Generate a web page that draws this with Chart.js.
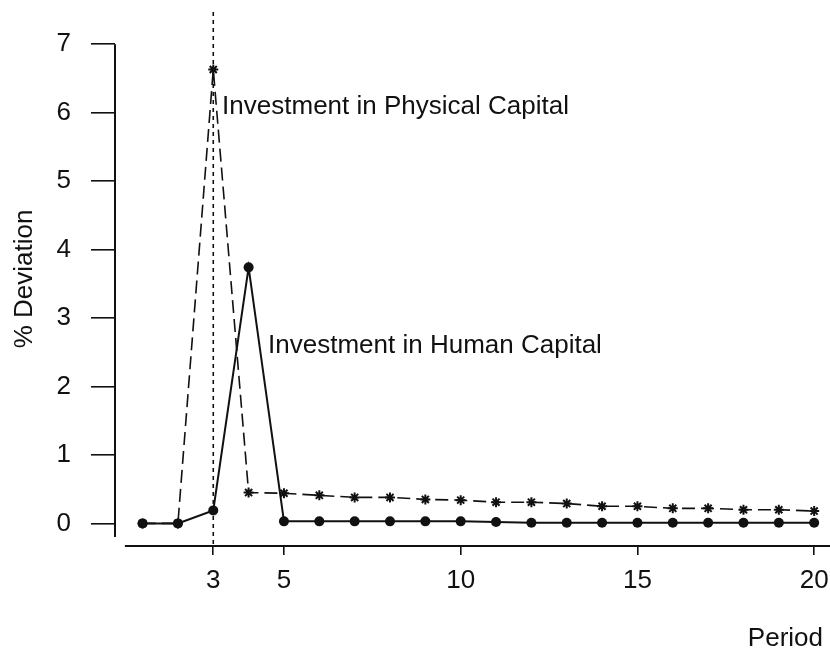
<!DOCTYPE html>
<html>
<head>
<meta charset="utf-8">
<script src="https://cdn.jsdelivr.net/npm/chart.js@4.4.1/dist/chart.umd.min.js"></script>
<style>
  html, body { margin: 0; padding: 0; background: #fff; }
  #wrap { width: 830px; height: 655px; }
</style>
</head>
<body>
<div id="wrap"><canvas id="c" width="830" height="655"></canvas></div>
<script>
// Periods after the shock
const periods = [1, 2, 3, 4, 5, 6, 7, 8, 9, 10, 11, 12, 13, 14, 15, 16, 17, 18, 19, 20];
// % deviation of investment in physical capital
const physicalInvestment = [0, 0, 6.63, 0.45, 0.44, 0.41, 0.38, 0.38, 0.35, 0.34, 0.31, 0.31, 0.29, 0.25, 0.25, 0.22, 0.22, 0.20, 0.20, 0.18];
// % deviation of investment in human capital
const humanInvestment = [0, 0, 0.19, 3.74, 0.03, 0.03, 0.03, 0.03, 0.03, 0.03, 0.02, 0.01, 0.01, 0.01, 0.01, 0.01, 0.01, 0.01, 0.01, 0.01];
// Axis ticks
const xTicks = [3, 5, 10, 15, 20];
const yTicks = [0, 1, 2, 3, 4, 5, 6, 7];
// Period of the shock, marked with a vertical dotted line
const shockPeriod = 3;
// Series labels written next to their peaks
const seriesLabels = ['Investment in Physical Capital', 'Investment in Human Capital'];

const INK = '#111';
const FONT = "'Liberation Sans', Arial, Helvetica, sans-serif";
Chart.defaults.font.family = FONT;
Chart.defaults.color = INK;

const toXY = (vals) => vals.map((v, i) => ({ x: periods[i], y: v }));

// Axis lines, the shock marker and the in-plot labels
const decorations = {
  id: 'decorations',
  afterDatasetsDraw(chart) {
    const { ctx, chartArea, scales } = chart;
    const xs = scales.x, ys = scales.y;
    ctx.save();
    ctx.strokeStyle = INK;
    ctx.lineCap = 'butt';

    // y axis line (spanning the tick range)
    ctx.lineWidth = 2;
    ctx.beginPath();
    ctx.moveTo(chartArea.left, ys.getPixelForValue(7));
    ctx.lineTo(chartArea.left, ys.getPixelForValue(-0.2));
    ctx.stroke();

    // x axis line, running out to the right edge
    ctx.beginPath();
    ctx.moveTo(xs.getPixelForValue(0.5), chartArea.bottom);
    ctx.lineTo(chart.width, chartArea.bottom);
    ctx.stroke();

    // dotted line at the shock period
    ctx.lineWidth = 1.6;
    ctx.setLineDash([4, 4]);
    const sx = xs.getPixelForValue(shockPeriod);
    ctx.beginPath();
    ctx.moveTo(sx, chartArea.top);
    ctx.lineTo(sx, chartArea.bottom);
    ctx.stroke();
    ctx.setLineDash([]);

    // series labels
    ctx.fillStyle = INK;
    ctx.font = '26px ' + FONT;
    ctx.textAlign = 'left';
    ctx.textBaseline = 'middle';
    ctx.fillText(seriesLabels[0], xs.getPixelForValue(3.25), ys.getPixelForValue(6.09));
    ctx.fillText(seriesLabels[1], xs.getPixelForValue(4.55), ys.getPixelForValue(2.6));
    ctx.restore();
  }
};

new Chart(document.getElementById('c'), {
  type: 'line',
  data: {
    datasets: [
      {
        label: seriesLabels[0],
        data: toXY(physicalInvestment),
        borderColor: INK,
        backgroundColor: INK,
        borderWidth: 1.6,
        borderDash: [13, 6],
        tension: 0,
        pointStyle: 'star',
        pointRadius: 5,
        pointBorderWidth: 2,
        pointBorderColor: INK,
        fill: false
      },
      {
        label: seriesLabels[1],
        data: toXY(humanInvestment),
        borderColor: INK,
        backgroundColor: INK,
        borderWidth: 2,
        tension: 0,
        pointStyle: 'circle',
        pointRadius: 5,
        pointBorderWidth: 0,
        pointBackgroundColor: INK,
        fill: false
      }
    ]
  },
  options: {
    responsive: false,
    animation: false,
    layout: { padding: { top: 12, right: 2, bottom: 0, left: 0 } },
    plugins: { legend: { display: false }, tooltip: { enabled: false } },
    scales: {
      x: {
        type: 'linear',
        min: 0.22,
        max: 20.25,
        afterBuildTicks: (s) => { s.ticks = xTicks.map(v => ({ value: v })); },
        afterFit: (s) => { s.height = 109; s.paddingLeft = 0; s.paddingRight = 0; },
        ticks: { autoSkip: false, maxRotation: 0, padding: 10, font: { size: 26 }, color: INK },
        grid: { display: true, drawOnChartArea: false, drawTicks: true, tickLength: 9, color: INK, lineWidth: 1.6 },
        border: { display: false },
        title: { display: true, text: 'Period', align: 'end', font: { size: 26 }, color: INK, padding: { top: 27, bottom: 1 } }
      },
      y: {
        type: 'linear',
        min: -0.33,
        max: 7.47,
        afterBuildTicks: (s) => { s.ticks = yTicks.map(v => ({ value: v })); },
        afterFit: (s) => { s.width = 115; s.paddingTop = 0; s.paddingBottom = 0; },
        ticks: { padding: 20, font: { size: 26 }, color: INK },
        grid: { display: true, drawOnChartArea: false, drawTicks: true, tickLength: 24, color: INK, lineWidth: 1.6 },
        border: { display: false },
        title: { display: true, text: '% Deviation', font: { size: 26 }, color: INK, padding: { top: 9, bottom: 16 } }
      }
    }
  },
  plugins: [decorations]
});
</script>
</body>
</html>
